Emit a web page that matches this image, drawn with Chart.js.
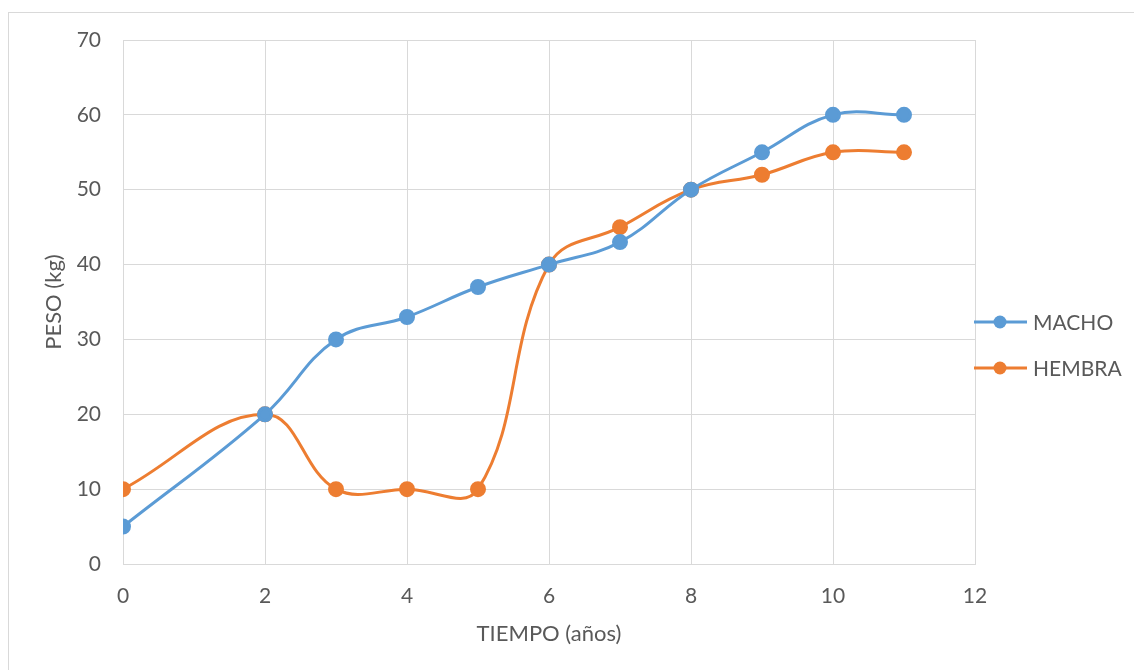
<!DOCTYPE html>
<html>
<head>
<meta charset="utf-8">
<script src="https://cdn.jsdelivr.net/npm/chart.js@4"></script>
<style>
  html, body { margin: 0; padding: 0; background: #fff; }
  #frame { position: absolute; left: 8px; top: 12px; width: 1140px; height: 670px; border: 1px solid #d9d9d9; box-sizing: border-box; }
  #wrap { position: absolute; left: 0; top: 0; width: 1134px; height: 670px; }
</style>
</head>
<body>
<div id="frame"></div>
<div id="wrap"><canvas id="chart"></canvas></div>
<script>
const years = [0, 2, 3, 4, 5, 6, 7, 8, 9, 10, 11];
const macho = [5, 20, 30, 33, 37, 40, 43, 50, 55, 60, 60];
const hembra = [10, 20, 10, 10, 10, 40, 45, 50, 52, 55, 55];
const seriesNames = ['MACHO', 'HEMBRA'];
const seriesColors = ['#5b9bd5', '#ed7d31'];

const FONT = 'Lato, "Open Sans", sans-serif';
const TEXT = '#595959';

function toPoints(vals) {
    return years.map((x, i) => ({ x: x, y: vals[i] }));
}

// legend on the right: short line with a dot, then the name
const sideLegend = {
    id: 'sideLegend',
    afterDraw(chart) {
        const ctx = chart.ctx;
        const rows = [322, 368];
        ctx.save();
        seriesNames.forEach((name, i) => {
            const y = rows[i];
            ctx.strokeStyle = seriesColors[i];
            ctx.lineWidth = 3;
            ctx.beginPath();
            ctx.moveTo(974, y);
            ctx.lineTo(1027, y);
            ctx.stroke();
            ctx.fillStyle = seriesColors[i];
            ctx.beginPath();
            ctx.arc(1000, y, 6.5, 0, Math.PI * 2);
            ctx.fill();
            ctx.fillStyle = TEXT;
            ctx.font = '21px ' + FONT;
            ctx.textBaseline = 'middle';
            ctx.textAlign = 'left';
            ctx.fillText(name, 1033, y + 1);
        });
        ctx.restore();
    }
};

new Chart(document.getElementById('chart'), {
    type: 'scatter',
    data: {
        datasets: [
            {
                label: seriesNames[0],
                data: toPoints(macho),
                borderColor: seriesColors[0],
                backgroundColor: seriesColors[0],
                showLine: true,
                tension: 0.4,
                borderWidth: 3,
                pointRadius: 6.5,
                pointHoverRadius: 6.5
            },
            {
                label: seriesNames[1],
                data: toPoints(hembra),
                borderColor: seriesColors[1],
                backgroundColor: seriesColors[1],
                showLine: true,
                tension: 0.4,
                borderWidth: 3,
                pointRadius: 6.5,
                pointHoverRadius: 6.5
            }
        ]
    },
    options: {
        responsive: true,
        maintainAspectRatio: false,
        animation: false,
        layout: { padding: { left: 0, top: 40, right: 159, bottom: 0 } },
        plugins: {
            legend: { display: false },
            tooltip: { enabled: false }
        },
        scales: {
            x: {
                type: 'linear',
                min: 0,
                max: 12,
                ticks: { stepSize: 2, color: TEXT, font: { family: FONT, size: 21 }, padding: 20 },
                grid: { color: '#d9d9d9', drawTicks: false, lineWidth: 1 },
                border: { color: '#d9d9d9' },
                title: { display: true, text: 'TIEMPO (años)', color: TEXT, font: { family: FONT, size: 22 }, padding: { top: 4, bottom: 23 } },
                afterFit(scale) { scale.height = 106; }
            },
            y: {
                min: 0,
                max: 70,
                ticks: { stepSize: 10, color: TEXT, font: { family: FONT, size: 21 }, padding: 22 },
                grid: { color: '#d9d9d9', drawTicks: false, lineWidth: 1 },
                border: { color: '#d9d9d9' },
                title: { display: true, text: 'PESO (kg)', color: TEXT, font: { family: FONT, size: 22 }, padding: { bottom: 0, top: 41 } },
                afterFit(scale) { scale.width = 123; }
            }
        }
    },
    plugins: [sideLegend]
});
</script>
</body>
</html>
